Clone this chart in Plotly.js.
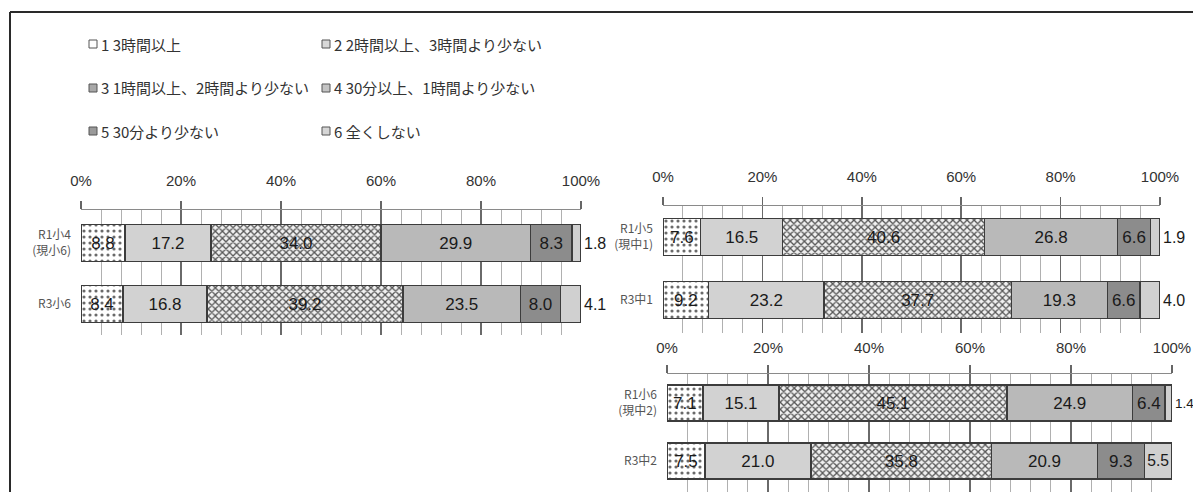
<!DOCTYPE html>
<html>
<head>
<meta charset="utf-8">
<script src="https://cdn.plot.ly/plotly-3.0.1.min.js"></script>
<style>
html,body{margin:0;padding:0;background:#fff;}
#chart{width:1193px;height:492px;}
</style>
</head>
<body>
<div id="chart"></div>
<script>
// ---- data ----
const categories = [
  "1 3時間以上",
  "2 2時間以上、3時間より少ない",
  "3 1時間以上、2時間より少ない",
  "4 30分以上、1時間より少ない",
  "5 30分より少ない",
  "6 全くしない"
];
const rowsA = ["R1小4<br>(現小6)", "R3小6"];
const rowsB = ["R1小5<br>(現中1)", "R3中1"];
const rowsC = ["R1小6<br>(現中2)", "R3中2"];
// values per category, [row1, row2]
const valuesA = [[8.8, 8.4], [17.2, 16.8], [34.0, 39.2], [29.9, 23.5], [8.3, 8.0], [1.8, 4.1]];
const valuesB = [[7.6, 9.2], [16.5, 23.2], [40.6, 37.7], [26.8, 19.3], [6.6, 6.6], [1.9, 4.0]];
const valuesC = [[7.1, 7.5], [15.1, 21.0], [45.1, 35.8], [24.9, 20.9], [6.4, 9.3], [1.4, 5.5]];
const xTicks = [0, 20, 40, 60, 80, 100];

// ---- styles ----
const W = 1193, H = 492;
const NUMFONT = '"Liberation Sans","DejaVu Sans",sans-serif';
const JPFONT = '"Noto Sans CJK JP","Noto Sans",sans-serif';
const markers = [
  {color:'#ffffff', pattern:{shape:'.', bgcolor:'#ffffff', fgcolor:'#6a6a6a', size:6, solidity:0.22, fillmode:'replace'}},
  {color:'#d2d2d2'},
  {color:'#eeeeee', pattern:{shape:'x', bgcolor:'#f0f0f0', fgcolor:'#555555', size:5, solidity:0.45, fillmode:'replace'}},
  {color:'#b9b9b9'},
  {color:'#8c8c8c'},
  {color:'#d0d0d0'}
];
const legendSwatch = ['#ffffff', '#d8d8d8', '#a8a8a8', '#c4c4c4', '#9a9a9a', '#d6d6d6'];

function px(x){ return x / W; }
function py(y){ return 1 - y / H; }

// panel geometry (pixels)
const panels = [
  {rows: rowsA, vals: valuesA, x0: 81,  x1: 581,  top: 210, bottom: 335, c0: 243, c1: 304, bh: 37, stand: 9, outSize: 16},
  {rows: rowsB, vals: valuesB, x0: 663, x1: 1160, top: 206, bottom: 333, c0: 237, c1: 300, bh: 37, stand: 9, outSize: 16},
  {rows: rowsC, vals: valuesC, x0: 667, x1: 1172, top: 374, bottom: 492, c0: 403, c1: 461, bh: 36, stand: 6, outSize: 13.5}
];

const traces = [];
const layout = {
  width: W, height: H,
  margin: {l:0, r:0, t:0, b:0},
  paper_bgcolor: '#ffffff', plot_bgcolor: 'rgba(0,0,0,0)',
  barmode: 'stack', bargap: 0,
  showlegend: false,
  font: {family: NUMFONT, color: '#222'},
  shapes: [], annotations: []
};

panels.forEach((p, i) => {
  const n = i === 0 ? '' : String(i + 1);
  const xa = 'x' + n, ya = 'y' + n;
  const spacing = p.c1 - p.c0;
  const rTop = -(p.c0 - p.top) / spacing;
  const rBot = 1 + (p.bottom - p.c1) / spacing;
  const width = p.bh / spacing;
  categories.forEach((cat, k) => {
    const v = p.vals[k];
    const pos = k === 5 ? v.map(val => val < 5 ? 'outside' : 'inside') : 'inside';
    traces.push({
      type: 'bar', orientation: 'h',
      name: cat,
      x: v, y: [0, 1],
      xaxis: xa, yaxis: ya,
      width: width,
      marker: Object.assign({line: {color: '#3c3c3c', width: 1.3}}, markers[k]),
      text: v.map(val => val.toFixed(1)),
      textposition: pos,
      insidetextanchor: 'middle',
      textangle: 0,
      constraintext: k === 5 ? 'inside' : 'both',
      insidetextfont: {family: NUMFONT, size: 17, color: '#1a1a1a'},
      outsidetextfont: {family: NUMFONT, size: p.outSize, color: '#1a1a1a'},
      cliponaxis: false,
      hoverinfo: 'name+x'
    });
  });
  layout['xaxis' + n] = {
    domain: [px(p.x0), px(p.x1)],
    anchor: ya,
    side: 'top',
    range: [0, 100],
    tickvals: xTicks,
    ticktext: xTicks.map(t => t + '%'),
    ticks: 'outside', ticklen: 8, tickcolor: '#666', tickwidth: 1.5,
    ticklabelstandoff: p.stand,
    ticklabeloverflow: 'allow',
    tickfont: {family: NUMFONT, size: 15, color: '#333'},
    showline: true, linecolor: '#8a8a8a', linewidth: 1.2,
    showgrid: true, gridcolor: '#6a6a6a', gridwidth: 1.5,
    zeroline: false,
    minor: {dtick: 4, showgrid: true, gridcolor: '#b0b0b0', gridwidth: 1, ticks: ''},
    fixedrange: true
  };
  layout['yaxis' + n] = {
    domain: [py(p.bottom), py(p.top)],
    anchor: xa,
    range: [rBot, rTop],
    tickvals: [0, 1],
    ticktext: p.rows,
    ticks: '',
    ticklabelstandoff: 9,
    tickfont: {family: JPFONT, size: 12, color: '#555'},
    showgrid: false, zeroline: false, showline: false,
    fixedrange: true
  };
});

// frame of the scanned figure
layout.shapes.push({type:'line', xref:'paper', yref:'paper', x0: px(10), x1: 1.01, y0: py(12), y1: py(12), line:{color:'#2a2a2a', width:2}});
layout.shapes.push({type:'line', xref:'paper', yref:'paper', x0: px(10), x1: px(10), y0: py(12), y1: -0.01, line:{color:'#2a2a2a', width:2}});

// legend (3 rows x 2 columns)
const legCols = [89, 322];
const legRows = [44, 88, 131];
categories.forEach((cat, k) => {
  const cx = legCols[k % 2];
  const cy = legRows[Math.floor(k / 2)];
  layout.shapes.push({
    type:'rect', xref:'paper', yref:'paper',
    x0: px(cx), x1: px(cx + 8), y0: py(cy + 4), y1: py(cy - 4),
    fillcolor: legendSwatch[k], line:{color:'#555', width:1}
  });
  layout.annotations.push({
    xref:'paper', yref:'paper', x: px(cx + 10), y: py(cy),
    xanchor:'left', yanchor:'middle', showarrow:false,
    text: cat, font:{family: JPFONT, size: 15, color:'#333'}
  });
});

Plotly.newPlot('chart', traces, layout, {displayModeBar: false, staticPlot: true});
</script>
</body>
</html>
